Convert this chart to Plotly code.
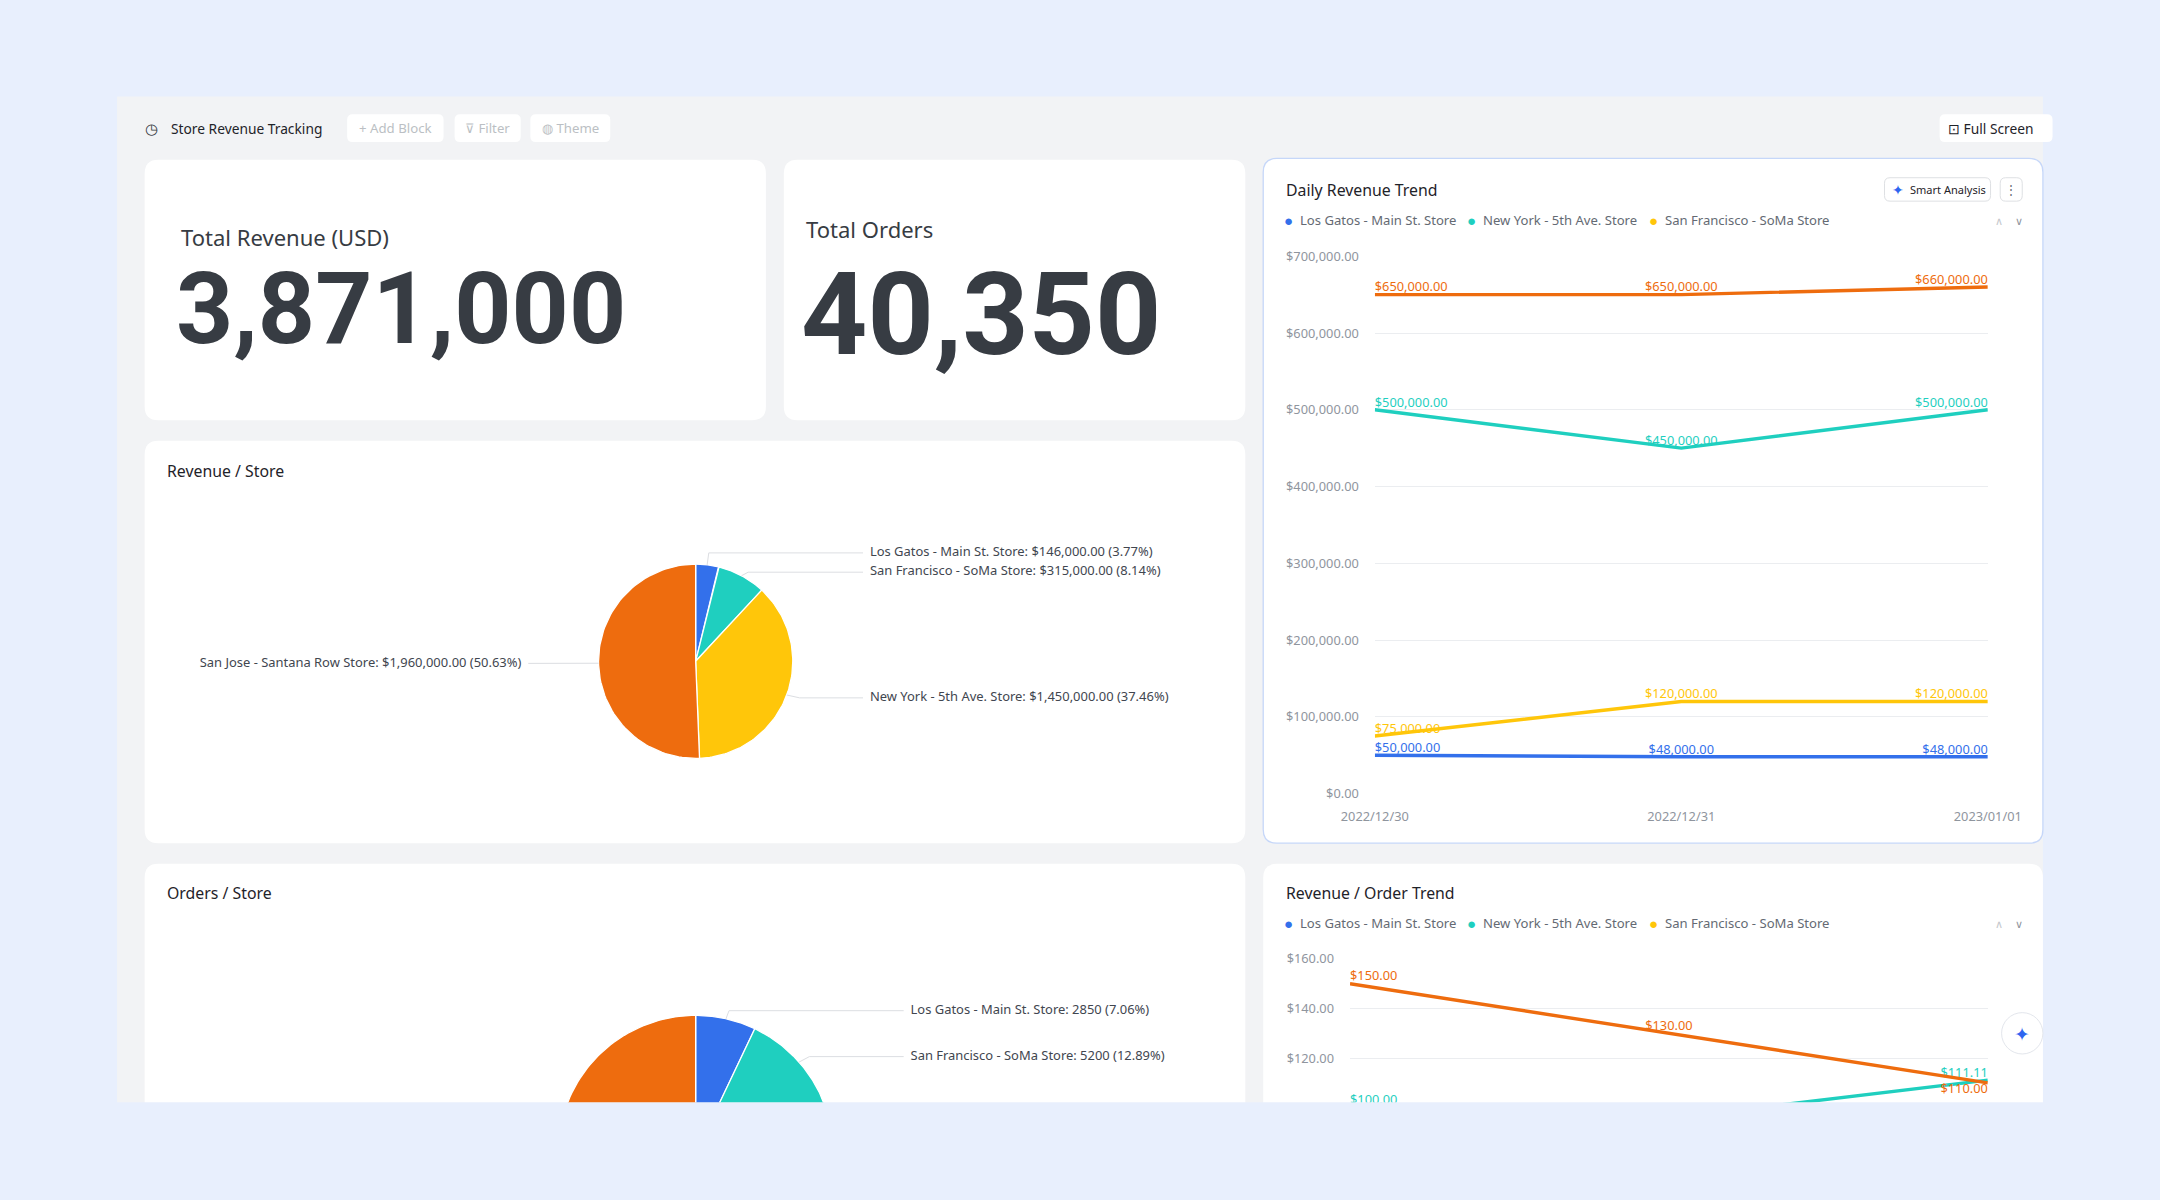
import numpy as np
import plotly.graph_objects as go

# ---------------- data ----------------
stores = ["Los Gatos - Main St. Store", "New York - 5th Ave. Store",
          "San Francisco - SoMa Store", "San Jose - Santana Row Store"]
store_colors = ["#3370EB", "#1FCFBF", "#FFC60A", "#EE6C0E"]
days = ["2022/12/30", "2022/12/31", "2023/01/01"]

# daily revenue (USD)
rev_los_gatos = [50000, 48000, 48000]
rev_new_york = [500000, 450000, 500000]
rev_san_francisco = [75000, 120000, 120000]
rev_san_jose = [650000, 650000, 660000]

# revenue per order (only the part above the fold is visible)
rpo_new_york = [100.00, 95.74, 111.11]
rpo_san_jose = [150.00, 130.00, 110.00]

# orders per store (NY and San Jose sit below the fold -> estimated)
orders_per_store = [2850, 15000, 5200, 17300]

revenue_per_store = [sum(r) for r in (rev_los_gatos, rev_new_york,
                                      rev_san_francisco, rev_san_jose)]
pie_palette = ["#3370EB", "#1FCFBF", "#FFC60A", "#EE6C0E"]  # by size, small -> big

# ---------------- helpers ----------------
W0, H0 = 1568, 871      # layout measured on this canvas
K = 2160 / W0           # font scale to real pixels

BG = "#E8EFFD"
PANEL = "#F2F3F5"
TXT = "#1F2329"
GREY = "#8F959E"
FONT = "Noto Sans"


def px(x):
    return x / W0


def py(y):
    return 1 - y / H0


def rrect(x0, y0, x1, y1, r=10):
    ax, ay = r / W0, r / H0
    X0, X1, T, B = px(x0), px(x1), py(y0), py(y1)
    return (f"M{X0+ax},{T} L{X1-ax},{T} Q{X1},{T} {X1},{T-ay} "
            f"L{X1},{B+ay} Q{X1},{B} {X1-ax},{B} L{X0+ax},{B} "
            f"Q{X0},{B} {X0},{B+ay} L{X0},{T-ay} Q{X0},{T} {X0+ax},{T} Z")


shapes = []
ann = []


def box(x0, y0, x1, y1, r=10, fill="white", line=None, lw=1):
    shapes.append(dict(type="path", path=rrect(x0, y0, x1, y1, r), xref="paper", yref="paper",
                       fillcolor=fill, line=dict(color=line or fill, width=lw if line else 0),
                       layer="below"))


def note(text, x, y, size, color=TXT, xanchor="left", family=FONT, weight=None):
    f = dict(family=family, size=size * K, color=color)
    if weight:
        f["weight"] = weight
    ann.append(dict(text=text, x=px(x), y=py(y), xref="paper", yref="paper",
                    xanchor=xanchor, yanchor="middle", showarrow=False, font=f))


fig = go.Figure()

# ---------------- frame / cards ----------------
shapes.append(dict(type="rect", xref="paper", yref="paper", x0=px(85), x1=px(1483),
                   y0=py(830), y1=py(70), fillcolor=PANEL, line=dict(width=0), layer="below"))
box(105, 116, 556, 305)
box(569, 116, 904, 305)
box(105, 320, 904, 612)
box(917, 115, 1483, 612, line="#C6D7F9", lw=1.3)
box(917, 627, 1483, 840)
box(105, 627, 904, 840)
# page fold
shapes.append(dict(type="rect", xref="paper", yref="paper", x0=0, x1=1, y0=0, y1=py(800),
                   fillcolor=BG, line=dict(width=0), layer="below"))

# toolbar
note("◷", 110, 93, 11, color="#373C43", xanchor="center")
note("Store Revenue Tracking", 123, 93, 10)
for x0, x1, label in ((252, 322, "+ Add Block"), (330, 378, "⊽ Filter"), (385, 443, "◍ Theme")):
    box(x0, 83, x1, 103, r=4)
    note(label, (x0 + x1) / 2, 93, 9.6, color="#BBBFC4", xanchor="center")
box(1408, 83, 1490, 103, r=4)
note("⊡ Full Screen", 1413, 93, 10, color=TXT)

# KPI cards
note("Total Revenue (USD)", 130, 172, 16, color="#373C43")
note(f"{sum(revenue_per_store):,}", 126, 224, 72.5, color="#373C43", family="Roboto", weight=700)
note("Total Orders", 584, 166, 16, color="#373C43")
note(f"{sum(orders_per_store):,}", 580, 228, 84, color="#373C43", family="Roboto", weight=700)

# card titles
note("Revenue / Store", 120, 342, 11.5)
note("Orders / Store", 120, 648, 11.5)
note("Daily Revenue Trend", 932, 138, 11.5)
note("Revenue / Order Trend", 932, 648, 11.5)

# legends of the two trend cards
for ly in (160, 670):
    for name, col, lx in zip(stores[:3], store_colors[:3], (935, 1068, 1200)):
        note("●", lx, ly, 11, color=col, xanchor="center")
        note(name, lx + 7, ly, 9.5, color="#646A73")
    note("∧", 1451, ly, 8, color="#C4C7CC", xanchor="center")
    note("∨", 1466, ly, 8, color="#8F959E", xanchor="center")

# smart analysis buttons
box(1368, 129, 1445, 146, r=4, line="#DEE0E3")
note("✦", 1378, 137.5, 10, color="#2E65F0", xanchor="center")
note("Smart Analysis", 1385, 137.5, 8, color=TXT)
box(1452, 129, 1468, 146, r=4, line="#DEE0E3")
note("⋮", 1460, 137.5, 9, color="#646A73", xanchor="center")

# floating assistant button
shapes.append(dict(type="circle", xref="paper", yref="paper", x0=px(1453), x1=px(1483),
                   y0=py(765), y1=py(735), fillcolor="white", line=dict(color="#E3E6EC", width=1)))
note("✦", 1468, 750, 14, color="#2E65F0", xanchor="center")

# ---------------- daily revenue trend ----------------
daily = (rev_los_gatos, rev_new_york, rev_san_francisco, rev_san_jose)
for name, col, vals in zip(stores, store_colors, daily):
    fig.add_trace(go.Scatter(
        x=days, y=vals, name=name, mode="lines+text", line=dict(color=col, width=3.4),
        texttemplate="$%{y:,.2f}", textposition=["top right", "top center", "top left"],
        textfont=dict(family=FONT, size=9.3 * K, color=col), xaxis="x", yaxis="y",
        hoverinfo="skip"))

# ---------------- revenue / order trend ----------------
for col, vals, pos in ((store_colors[1], rpo_new_york, ["top right", "top center", "top left"]),
                       (store_colors[3], rpo_san_jose, ["top right", "top center", "bottom left"])):
    fig.add_trace(go.Scatter(
        x=days, y=vals, mode="lines+text", line=dict(color=col, width=3.4),
        texttemplate="$%{y:,.2f}", textposition=pos,
        textfont=dict(family=FONT, size=9.3 * K, color=col), xaxis="x2", yaxis="y2",
        hoverinfo="skip"))


# ---------------- pies (drawn on pixel-like axes so the fold can clip them) ----------------
def add_pie(values, fmt, cx, cy, R, xa, ya):
    total = float(sum(values))
    start = 0.0
    sides = {1: [], -1: []}
    for rank, i in enumerate(np.argsort(values)):
        frac = values[i] / total
        th = np.linspace(start, start + frac, 90) * 2 * np.pi
        xs = np.concatenate([[cx], cx + R * np.sin(th), [cx]])
        ys = np.concatenate([[-cy], -cy + R * np.cos(th), [-cy]])
        fig.add_trace(go.Scatter(x=xs, y=ys, mode="lines", fill="toself",
                                 fillcolor=pie_palette[rank], line=dict(color="white", width=1.3),
                                 xaxis=xa, yaxis=ya, hoverinfo="skip"))
        mid = (start + frac / 2) * 2 * np.pi
        side = 1 if np.sin(mid) >= 0 else -1
        sides[side].append(dict(mid=mid, y=-cy + (R + 6) * np.cos(mid),
                                text=fmt(stores[i], values[i], 100 * frac)))
        start += frac
    for side, labs in sides.items():
        labs.sort(key=lambda d: -d["y"])
        for a, b in zip(labs, labs[1:]):
            gap = a["y"] - b["y"]
            if gap < 14:
                a["y"] += (14 - gap) / 2
                b["y"] -= (14 - gap) / 2
        for d in labs:
            if d["y"] < ya_bottom[ya]:   # label falls under the fold
                continue
            m = d["mid"]
            lx = cx + side * (R + 56)
            fig.add_trace(go.Scatter(
                x=[cx + R * np.sin(m), cx + (R + 10) * np.sin(m), lx - side * 5],
                y=[-cy + R * np.cos(m), d["y"], d["y"]], mode="lines",
                line=dict(color="#DCDEE2", width=1), xaxis=xa, yaxis=ya, hoverinfo="skip"))
            fig.add_trace(go.Scatter(
                x=[lx], y=[d["y"]], mode="text", text=[d["text"]],
                textposition="middle right" if side > 0 else "middle left",
                textfont=dict(family=FONT, size=9.4 * K, color="#41464F"),
                xaxis=xa, yaxis=ya, hoverinfo="skip"))


ya_bottom = {"y3": -612, "y4": -800}
add_pie(revenue_per_store, lambda n, v, p: f"{n}: ${v:,.2f} ({p:.2f}%)", 505, 480, 70.5, "x3", "y3")
add_pie(orders_per_store, lambda n, v, p: f"{n}: {v} ({p:.2f}%)", 505, 837, 100, "x4", "y4")

# ---------------- axes ----------------
tick_font = dict(family=FONT, size=9.3 * K, color=GREY)
hidden = dict(visible=False, showgrid=False, zeroline=False, fixedrange=True, automargin=False)
rpo_px_per_usd = (768 - 696) / 40.0   # $20 tick spacing measured on the canvas

fig.update_layout(
    width=2160, height=1200, margin=dict(l=0, r=0, t=0, b=0, autoexpand=False),
    paper_bgcolor=BG, plot_bgcolor="rgba(0,0,0,0)", showlegend=False,
    shapes=shapes, annotations=ann,
    xaxis=dict(domain=[px(998), px(1443)], anchor="y", type="category", range=[0, 2],
               showgrid=False, zeroline=False, showline=False, ticks="", automargin=False,
               tickfont=tick_font, ticklabelstandoff=14),
    yaxis=dict(domain=[py(576), py(186)], anchor="x", range=[0, 700000], dtick=100000,
               tickformat="$,.2f", gridcolor="#EBEDF0", gridwidth=1.2, zeroline=False,
               showline=False, ticks="", tickfont=tick_font, ticklabelstandoff=15,
               automargin=False),
    xaxis2=dict(domain=[px(980), px(1443)], anchor="y2", type="category", range=[0, 2],
                showgrid=False, zeroline=False, showticklabels=False, ticks="",
                automargin=False),
    yaxis2=dict(domain=[py(800), py(696)], anchor="x2",
                range=[160 - (800 - 696) / rpo_px_per_usd, 160], tick0=0, dtick=20,
                tickformat="$,.2f", gridcolor="#EBEDF0", gridwidth=1.2, zeroline=False,
                showline=False, ticks="", tickfont=tick_font, ticklabelstandoff=15,
                automargin=False),
    xaxis3=dict(domain=[px(105), px(904)], anchor="y3", range=[105, 904], **hidden),
    yaxis3=dict(domain=[py(612), py(320)], anchor="x3", range=[-612, -320], **hidden),
    xaxis4=dict(domain=[px(105), px(904)], anchor="y4", range=[105, 904], **hidden),
    yaxis4=dict(domain=[py(800), py(627)], anchor="x4", range=[-800, -627], **hidden),
)

fig.write_html("out.html", config={"displayModeBar": False},
               post_script="document.body.style.margin='0';")
